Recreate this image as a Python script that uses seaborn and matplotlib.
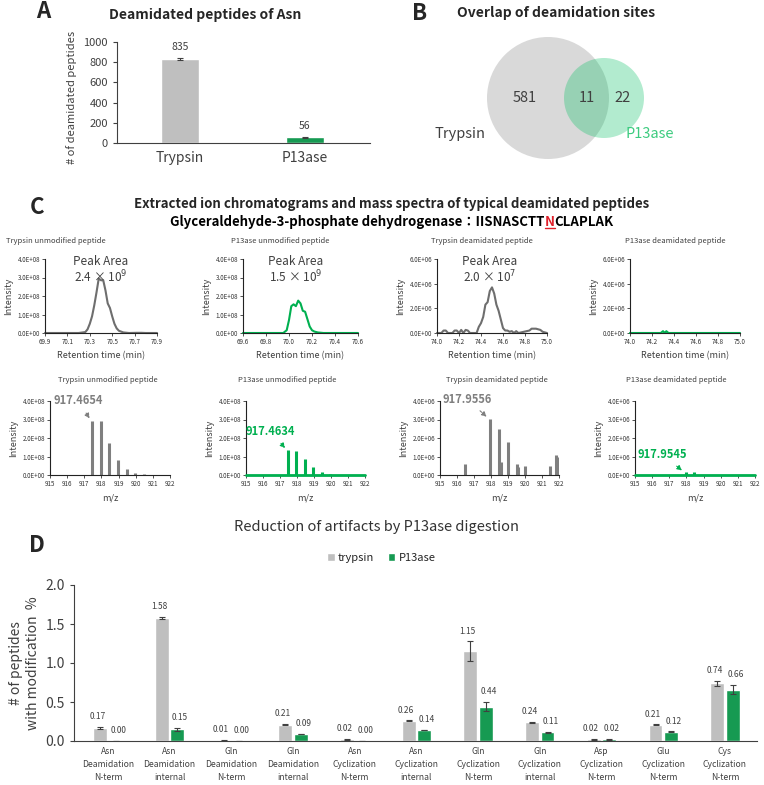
import numpy as np
import pandas as pd
import matplotlib
matplotlib.use('Agg')
import matplotlib.pyplot as plt
import seaborn as sns
from matplotlib.patches import Circle
from matplotlib.lines import Line2D
from matplotlib.ticker import FuncFormatter

# ---------------- data ----------------
a_enzymes = ['Trypsin', 'P13ase']
a_counts = [835, 56]
a_err = [10, 4]

venn_trypsin_only = 581
venn_both = 11
venn_p13_only = 22

# chromatograms (retention time min, intensity)
c1_rt = [69.90, 70.20, 70.26, 70.28, 70.30, 70.32, 70.34, 70.36, 70.38, 70.40, 70.42, 70.44,
         70.46, 70.48, 70.50, 70.52, 70.54, 70.56, 70.60, 70.65, 70.72, 70.76, 70.80, 70.90]
c1_int = [0, 0, 0.05e8, 0.2e8, 0.5e8, 0.9e8, 1.5e8, 2.2e8, 2.95e8, 2.85e8, 2.85e8, 2.3e8,
          1.6e8, 1.35e8, 0.9e8, 0.5e8, 0.25e8, 0.12e8, 0.03e8, 0, 0.01e8, 0.01e8, 0, 0]

c2_rt = [69.60, 69.95, 69.98, 70.00, 70.02, 70.04, 70.06, 70.08, 70.10, 70.12, 70.14, 70.16,
         70.18, 70.20, 70.22, 70.25, 70.30, 70.60]
c2_int = [0, 0, 0.15e8, 0.7e8, 1.45e8, 1.55e8, 1.45e8, 1.75e8, 1.6e8, 1.2e8, 1.15e8, 0.75e8,
          0.35e8, 0.15e8, 0.08e8, 0.03e8, 0, 0]

c3_rt = [74.00, 74.04, 74.06, 74.08, 74.10, 74.14, 74.16, 74.18, 74.20, 74.22, 74.24, 74.26,
         74.28, 74.30, 74.36, 74.38, 74.40, 74.42, 74.44, 74.46, 74.48, 74.50, 74.52, 74.54,
         74.56, 74.58, 74.60, 74.62, 74.64, 74.66, 74.68, 74.70, 74.72, 74.74, 74.84, 74.86,
         74.90, 74.94, 74.96, 75.00]
c3_int = [0, 0, 0.2e6, 0.2e6, 0, 0, 0.2e6, 0.2e6, 0, 0.25e6, 0, 0.25e6,
          0.2e6, 0, 0, 0.5e6, 0.8e6, 1.3e6, 2.3e6, 2.5e6, 3.4e6, 3.7e6, 3.2e6, 2.3e6,
          1.8e6, 1.1e6, 0.4e6, 0.2e6, 0.2e6, 0.1e6, 0.15e6, 0, 0.15e6, 0, 0.2e6, 0.35e6,
          0.35e6, 0.25e6, 0.1e6, 0]

c4_rt = [74.00, 74.28, 74.30, 74.31, 74.32, 74.33, 74.35, 75.00]
c4_int = [0, 0, 0.15e6, 0.05e6, 0, 0.15e6, 0, 0]

# mass spectra (m/z, intensity)
s1_mz = [916.80, 917.47, 917.97, 918.47, 918.97, 919.47, 919.97, 920.47]
s1_int = [0.01e8, 2.9e8, 2.9e8, 1.75e8, 0.8e8, 0.3e8, 0.1e8, 0.03e8]
s2_mz = [917.47, 917.97, 918.47, 918.97, 919.47, 919.97, 920.47]
s2_int = [1.35e8, 1.3e8, 0.85e8, 0.42e8, 0.15e8, 0.07e8, 0.02e8]
s3_mz = [916.47, 917.97, 918.48, 918.56, 919.00, 919.50, 919.60, 919.99, 921.46, 921.80, 921.95]
s3_int = [0.6e6, 3.05e6, 2.5e6, 0.7e6, 1.8e6, 0.6e6, 0.42e6, 0.47e6, 0.47e6, 1.07e6, 0.98e6]
s4_mz = [917.98, 918.47]
s4_int = [0.18e6, 0.18e6]

spec_labels = ['917.4654', '917.4634', '917.9556', '917.9545']

d_cats = ['Asn\nDeamidation\nN-term', 'Asn\nDeamidation\ninternal', 'Gln\nDeamidation\nN-term',
          'Gln\nDeamidation\ninternal', 'Asn\nCyclization\nN-term', 'Asn\nCyclization\ninternal',
          'Gln\nCyclization\nN-term', 'Gln\nCyclization\ninternal', 'Asp\nCyclization\nN-term',
          'Glu\nCyclization\nN-term', 'Cys\nCyclization\nN-term']
d_trypsin = [0.17, 1.58, 0.01, 0.21, 0.02, 0.26, 1.15, 0.24, 0.02, 0.21, 0.74]
d_p13 = [0.00, 0.15, 0.00, 0.09, 0.00, 0.14, 0.44, 0.11, 0.02, 0.12, 0.66]
d_trypsin_err = [0.01, 0.015, 0.005, 0.01, 0.005, 0.005, 0.13, 0.01, 0.005, 0.005, 0.03]
d_p13_err = [0.0, 0.02, 0.0, 0.005, 0.0, 0.005, 0.06, 0.01, 0.005, 0.005, 0.06]

GRAY = '#BFBFBF'
GREEN = '#00B050'
DARK = '#404040'

sns.set_theme(style='ticks')
plt.rcParams['font.family'] = ['Noto Sans CJK JP', 'DejaVu Sans']
plt.rcParams['axes.unicode_minus'] = False

W, H = 764, 785
fig = plt.figure(figsize=(W / 100, H / 100), dpi=100)


def px_ax(x0, y0, x1, y1):
    return fig.add_axes([x0 / W, 1 - y1 / H, (x1 - x0) / W, (y1 - y0) / H])


def ftext(x, y, s, **kw):
    return fig.text(x / W, 1 - y / H, s, **kw)


# ---------------- panel A ----------------
ftext(43, 12, 'A', fontsize=16, fontweight='bold', ha='center', va='center')
ftext(205, 15, 'Deamidated peptides of Asn', fontsize=10, fontweight='bold', ha='center', va='center')
axA = px_ax(117, 42, 370, 143)
dfa = pd.DataFrame({'enzyme': a_enzymes, 'count': a_counts})
sns.barplot(data=dfa, x='enzyme', y='count', hue='enzyme', palette=[GRAY, GREEN],
            width=0.31, legend=False, ax=axA)
axA.errorbar(range(len(a_counts)), a_counts, yerr=a_err, fmt='none', ecolor=DARK,
             capsize=2, elinewidth=0.8, capthick=0.8)
for i, v in enumerate(a_counts):
    axA.annotate(str(v), (i, v + a_err[i]), xytext=(0, 4), textcoords='offset points',
                 ha='center', va='bottom', fontsize=7.5, color=DARK)
axA.set_xlim(-0.504, 1.52)
axA.set_ylim(0, 1000)
axA.set_yticks(range(0, 1001, 200))
axA.set_xlabel('')
axA.set_ylabel('# of deamidated peptides', fontsize=8, color=DARK)
axA.yaxis.set_label_coords(-0.16, 0.45)
axA.tick_params(axis='y', labelsize=8, length=3, width=0.8, colors=DARK)
axA.tick_params(axis='x', labelsize=10, length=0, colors=DARK, pad=6)
sns.despine(ax=axA)
for s in ['left', 'bottom']:
    axA.spines[s].set_color(DARK)
    axA.spines[s].set_linewidth(0.8)

# ---------------- panel B ----------------
ftext(420, 13, 'B', fontsize=16, fontweight='bold', ha='center', va='center')
ftext(556, 13, 'Overlap of deamidation sites', fontsize=10, fontweight='bold', ha='center', va='center')
axB = px_ax(400, 28, 764, 175)
axB.set_xlim(400, 764)
axB.set_ylim(175, 28)
axB.set_axis_off()
axB.add_patch(Circle((548, 98), 61, facecolor='#D9D9D9', edgecolor='none'))
axB.add_patch(Circle((604, 98), 40, facecolor='#00C060', edgecolor='none', alpha=0.3))
axB.text(525, 98, str(venn_trypsin_only), fontsize=10.5, color=DARK, ha='center', va='center')
axB.text(587, 98, str(venn_both), fontsize=10.5, color=DARK, ha='center', va='center')
axB.text(623, 98, str(venn_p13_only), fontsize=10.5, color=DARK, ha='center', va='center')
axB.text(460, 134, 'Trypsin', fontsize=10.5, color=DARK, ha='center', va='center')
axB.text(650, 134, 'P13ase', fontsize=10.5, color='#3CCB7F', ha='center', va='center')

# ---------------- panel C ----------------
ftext(37, 207, 'C', fontsize=16, fontweight='bold', ha='center', va='center')
ftext(392, 204, 'Extracted ion chromatograms and mass spectra of typical deamidated peptides',
      fontsize=9.5, fontweight='bold', ha='center', va='center')
renderer = fig.canvas.get_renderer()
parts = [('Glyceraldehyde-3-phosphate dehydrogenase：IISNASCTT', 'black'),
         ('N', '#E0202A'), ('CLAPLAK', 'black')]
ptexts = [ftext(0, 222, s, fontsize=9.5, fontweight='bold', color=c, ha='left', va='center')
          for s, c in parts]
widths = [t.get_window_extent(renderer).width for t in ptexts]
xcur = 392 - sum(widths) / 2
for t, w in zip(ptexts, widths):
    t.set_x(xcur / W)
    xcur += w
nb = ptexts[1].get_window_extent(renderer)
fig.add_artist(Line2D([nb.x0 / W, nb.x1 / W], [(nb.y0 + 1) / H] * 2, color='#E0202A',
                      lw=1.0, transform=fig.transFigure))

sci = FuncFormatter(lambda v, p: f'{v:.1E}')


def small_axes(ax, xticks, xfmt, ymax, ystep):
    ax.set_xlim(xticks[0], xticks[-1])
    ax.set_ylim(0, ymax)
    ax.set_xticks(xticks)
    ax.xaxis.set_major_formatter(FuncFormatter(lambda v, p: xfmt.format(v)))
    ax.set_yticks(np.arange(0, ymax * 1.001, ystep))
    ax.yaxis.set_major_formatter(sci)
    ax.tick_params(labelsize=4.5, length=2, width=0.6, pad=1.5, colors='#333333')
    sns.despine(ax=ax)
    for s in ['left', 'bottom']:
        ax.spines[s].set_linewidth(0.8)
        ax.spines[s].set_color('#222222')
    ax.set_ylabel('Intensity', fontsize=6.5, color=DARK, labelpad=3)


chroms = [
    (c1_rt, c1_int, '#6E6E6E', (45, 259, 157, 333), np.round(np.arange(69.9, 70.91, 0.2), 1), 4e8, 1e8),
    (c2_rt, c2_int, GREEN, (243, 259, 358, 333), np.round(np.arange(69.6, 70.61, 0.2), 1), 4e8, 1e8),
    (c3_rt, c3_int, '#6E6E6E', (437, 259, 547, 333), np.round(np.arange(74.0, 75.01, 0.2), 1), 6e6, 2e6),
    (c4_rt, c4_int, GREEN, (630, 259, 740, 333), np.round(np.arange(74.0, 75.01, 0.2), 1), 6e6, 2e6),
]
top_titles = ['Trypsin unmodified peptide', 'P13ase unmodified peptide',
              'Trypsin deamidated peptide', 'P13ase deamidated peptide']
top_title_x = [56, 280, 482, 675]
peak_areas = [('2.4', '9'), ('1.5', '9'), ('2.0', '7'), None]
peak_x = [0.5, 0.46, 0.48]

for i, (rt, inten, col, box, xt, ymax, ystep) in enumerate(chroms):
    ax = px_ax(*box)
    sns.lineplot(x=rt, y=inten, ax=ax, color=col, lw=1.5, clip_on=False)
    small_axes(ax, xt, '{:.1f}', ymax, ystep)
    ax.set_xlabel('Retention time (min)', fontsize=6.5, color=DARK, labelpad=4)
    ftext(top_title_x[i], 241, top_titles[i], fontsize=5.5, color=DARK, ha='center', va='center')
    if peak_areas[i] is not None:
        m, e = peak_areas[i]
        ax.text(peak_x[i], 0.96, 'Peak Area', transform=ax.transAxes, fontsize=8.5,
                color=DARK, ha='center', va='center')
        ax.text(peak_x[i], 0.76, m + r' × 10$^{' + e + '}$', transform=ax.transAxes,
                fontsize=8.5, color=DARK, ha='center', va='center')

specs = [
    (s1_mz, s1_int, '#7F7F7F', (50, 401, 170, 475), 4e8, 1e8, (916.65, 4.0e8), (917.35, 3.0e8)),
    (s2_mz, s2_int, GREEN, (246, 401, 365, 475), 4e8, 1e8, (916.45, 2.35e8), (917.35, 1.4e8)),
    (s3_mz, s3_int, '#7F7F7F', (440, 401, 559, 475), 4e6, 1e6, (916.6, 4.1e6), (917.8, 3.1e6)),
    (s4_mz, s4_int, GREEN, (635, 401, 755, 475), 4e6, 1e6, (916.6, 1.1e6), (917.8, 0.2e6)),
]
bottom_title_x = [108, 287, 497, 676]
for i, (mz, inten, col, box, ymax, ystep, txy, axy) in enumerate(specs):
    ax = px_ax(*box)
    ax.vlines(mz, 0, inten, color=col, lw=2.2)
    if col == GREEN:
        ax.axhline(0, color=col, lw=2, clip_on=False, zorder=3)
    small_axes(ax, np.arange(915, 923, 1), '{:.0f}', ymax, ystep)
    ax.set_xlabel('m/z', fontsize=6.5, color=DARK, style='italic', labelpad=4)
    ftext(bottom_title_x[i], 380, top_titles[i], fontsize=5.5, color=DARK, ha='center', va='center')
    ax.annotate(spec_labels[i], xy=axy, xytext=txy, ha='center', va='center',
                fontsize=8, fontweight='bold', color=col, annotation_clip=False,
                arrowprops=dict(arrowstyle='-|>', color=col, lw=0.8, ls=(0, (2, 1)),
                                mutation_scale=7, shrinkA=2, shrinkB=1))

# ---------------- panel D ----------------
ftext(37, 546, 'D', fontsize=16, fontweight='bold', ha='center', va='center')
ftext(376, 527, 'Reduction of artifacts by P13ase digestion', fontsize=10.5, color='#333333',
      ha='center', va='center')
axD = px_ax(74, 585, 757, 741)
dfd = pd.DataFrame({'cat': d_cats * 2,
                    'enzyme': ['trypsin'] * len(d_cats) + ['P13ase'] * len(d_cats),
                    'value': d_trypsin + d_p13})
sns.barplot(data=dfd, x='cat', y='value', hue='enzyme', palette=[GRAY, GREEN],
            width=0.5, gap=0.1, errorbar=None, ax=axD)
xs = np.arange(len(d_cats))
for off, nudge, vals, errs in [(-0.125, -2, d_trypsin, d_trypsin_err), (0.125, 2, d_p13, d_p13_err)]:
    axD.errorbar(xs + off, vals, yerr=errs, fmt='none', ecolor=DARK, capsize=2.5,
                 elinewidth=0.8, capthick=0.8)
    for x, v, e in zip(xs + off, vals, errs):
        axD.annotate(f'{v:.2f}', (x, v + e), xytext=(nudge, 4), textcoords='offset points',
                     ha='center', va='bottom', fontsize=6, color=DARK)
axD.set_xlim(-0.55, 10.52)
axD.set_ylim(0, 2.0)
axD.set_yticks(np.arange(0, 2.01, 0.5))
axD.yaxis.set_major_formatter(FuncFormatter(lambda v, p: f'{v:.1f}'))
axD.set_xlabel('')
axD.set_ylabel('# of peptides\nwith modification  %', fontsize=10, color=DARK, linespacing=1.3)
axD.yaxis.set_label_coords(-0.05, 0.5)
axD.tick_params(axis='y', labelsize=10, length=3, width=0.8, colors=DARK)
axD.tick_params(axis='x', labelsize=6.2, length=0, colors=DARK, pad=4)
for lab in axD.get_xticklabels():
    lab.set_linespacing(1.6)
sns.despine(ax=axD)
for s in ['left', 'bottom']:
    axD.spines[s].set_color(DARK)
    axD.spines[s].set_linewidth(0.8)
axD.legend(loc='lower center', bbox_to_anchor=(0.45, 1.08), ncol=2, frameon=False,
           fontsize=8, handlelength=0.7, handleheight=0.7, handletextpad=0.3, columnspacing=1.2)

fig.savefig('out.png', dpi=100)
